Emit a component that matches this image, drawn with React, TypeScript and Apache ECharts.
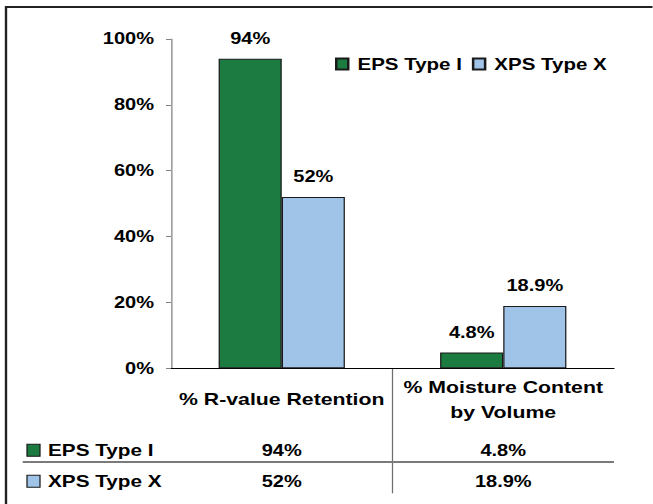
import { useEffect, useRef } from 'react';
import * as echarts from 'echarts';

// ---- data ----
const categories = ['% R-value Retention', '% Moisture Content\nby Volume'];
const seriesNames = ['EPS Type I', 'XPS Type X'];
const epsValues = [94, 4.8];
const xpsValues = [52, 18.9];
const yTickValues = [0, 20, 40, 60, 80, 100];

// ---- styling ----
const COLORS = ['#1B7B40', '#A0C4E8'];
const FONT = 'Liberation Sans, Arial, sans-serif';
const SX = 1.25; // the reference is horizontally stretched
const W = 653 / SX;
const H = 504;

export default function App() {
  const ref = useRef<HTMLDivElement>(null);

  useEffect(() => {
    if (!ref.current) return;
    const chart = echarts.init(ref.current, null, { renderer: 'svg', width: W, height: H });
    const seriesData = [epsValues, xpsValues];
    const option: any = {
      animation: false,
      backgroundColor: '#fff',
      textStyle: { fontFamily: FONT, fontWeight: 'bold', color: '#000' },
      grid: { left: 171 / SX, right: W - 614 / SX, top: 39, bottom: H - 368.3, containLabel: false },
      legend: {
        left: 335 / SX,
        top: 55,
        padding: 0,
        icon: 'rect',
        itemWidth: 9.6,
        itemHeight: 11,
        itemGap: 8,
        data: seriesNames,
        textStyle: { fontFamily: FONT, fontWeight: 'bold', fontSize: 16.4, color: '#000', lineHeight: 18, padding: [0, 0, 0, 2.4] },
      },
      xAxis: {
        type: 'category',
        data: categories,
        axisLine: { lineStyle: { color: '#000', width: 1 } },
        axisTick: { show: false },
        axisLabel: {
          interval: 0,
          margin: 31,
          verticalAlign: 'middle',
          lineHeight: 25,
          fontSize: 17,
          fontWeight: 'bold',
          fontFamily: FONT,
          color: '#000',
        },
      },
      yAxis: {
        type: 'value',
        min: yTickValues[0],
        max: yTickValues[yTickValues.length - 1],
        interval: yTickValues[1] - yTickValues[0],
        splitLine: { show: false },
        axisLine: { show: true, lineStyle: { color: '#808080', width: 1 } },
        axisTick: { show: true, length: 4, lineStyle: { color: '#808080' } },
        axisLabel: {
          margin: 13.6,
          fontSize: 16,
          fontWeight: 'bold',
          fontFamily: FONT,
          color: '#000',
          formatter: '{value}%',
        },
      },
      series: seriesNames.map((name, i) => ({
        name,
        type: 'bar',
        data: seriesData[i],
        barGap: '0%',
        barCategoryGap: '43%',
        itemStyle: { color: COLORS[i], borderColor: '#1a1a1a', borderWidth: 1 },
        label: {
          show: true,
          position: 'top',
          distance: 11,
          fontSize: 16,
          lineHeight: 18,
          fontWeight: 'bold',
          fontFamily: FONT,
          color: '#000',
          formatter: (p: any) => `${p.value}%`,
        },
      })),
    };
    chart.setOption(option);

    // data table positioned from the chart's own scales
    const c0 = chart.convertToPixel({ xAxisIndex: 0 }, categories[0]) as number;
    const c1 = chart.convertToPixel({ xAxisIndex: 0 }, categories[1]) as number;
    const y0 = chart.convertToPixel({ yAxisIndex: 0 }, 0) as number;
    const boundary = (c0 + c1) / 2;
    const rightEdge = c1 + (c1 - c0) / 2;
    const rowY = [y0 + 82, y0 + 113];
    const lineY = y0 + 93.7;
    const centers = [c0, c1];

    const graphic: any[] = [
      {
        type: 'polyline',
        shape: { points: [[4.8, H + 2], [4.8, 7], [W + 2, 7]] },
        style: { stroke: '#222', lineWidth: 1.9, fill: null },
        silent: true,
      },
      {
        type: 'line',
        shape: { x1: boundary, y1: y0, x2: boundary, y2: y0 + 125 },
        style: { stroke: '#6e6e6e', lineWidth: 1 },
      },
      {
        type: 'line',
        shape: { x1: 22.7 / SX, y1: lineY, x2: rightEdge, y2: lineY },
        style: { stroke: '#7a7a7a', lineWidth: 2 },
      },
    ];
    seriesNames.forEach((name, r) => {
      graphic.push({
        type: 'rect',
        shape: { x: 27 / SX, y: rowY[r] - 6, width: 10.4, height: 12 },
        style: { fill: COLORS[r], stroke: '#1a1a1a', lineWidth: 1 },
      });
      graphic.push({
        type: 'text',
        style: {
          x: 48 / SX,
          y: rowY[r],
          text: name,
          fontSize: 16.6,
          fontWeight: 'bold',
          fontFamily: FONT,
          fill: '#000',
          align: 'left',
          verticalAlign: 'middle',
        },
      });
      seriesData[r].forEach((v, c) => {
        graphic.push({
          type: 'text',
          style: {
            x: centers[c],
            y: rowY[r],
            text: `${v}%`,
            fontSize: 16,
            fontWeight: 'bold',
            fontFamily: FONT,
            fill: '#000',
            align: 'center',
            verticalAlign: 'middle',
          },
        });
      });
    });
    chart.setOption({ graphic });

    return () => chart.dispose();
  }, []);

  return (
    <div
      ref={ref}
      style={{
        position: 'fixed',
        left: 0,
        top: 0,
        width: W,
        height: H,
        transform: `scaleX(${SX})`,
        transformOrigin: '0 0',
        background: '#fff',
      }}
    />
  );
}
